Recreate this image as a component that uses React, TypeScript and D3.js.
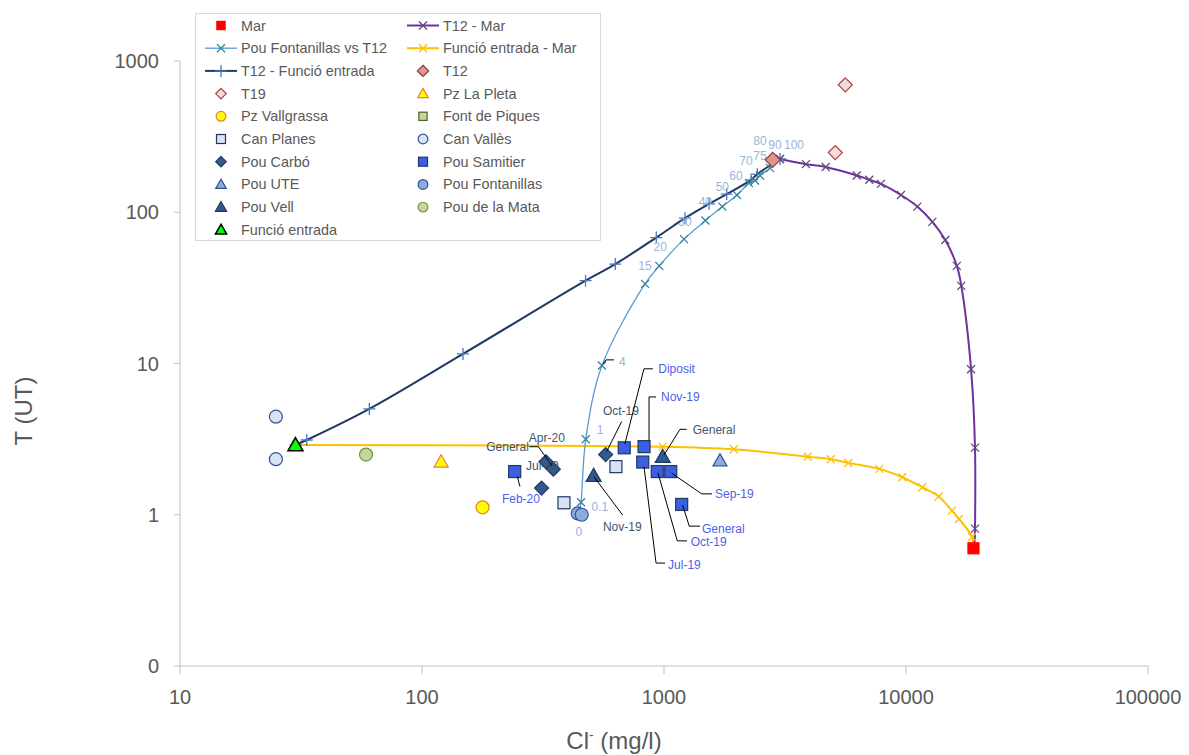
import React from 'react';
import * as d3 from 'd3';

// ---------- DATA ----------
const xTickValues = [10, 100, 1000, 10000, 100000];
const xTickLabels = ['10', '100', '1000', '10000', '100000'];
const yTickValues = [0.1, 1, 10, 100, 1000];
const yTickLabels = ['0', '1', '10', '100', '1000'];

const marX = [19000];
const marY = [0.6];

const t12MarX = [3015, 3860, 4660, 6260, 7050, 7880, 9530, 11140, 12850, 14530, 16220, 16930, 18570, 19280, 19280, 19200];
const t12MarY = [225, 208, 199, 175, 164, 154, 130, 109, 86.4, 65.6, 44.2, 32.6, 9.17, 2.78, 0.81, 0.6];

const fontT12X = [445, 454, 475, 554, 835, 956, 1210, 1482, 1742, 2003, 2245, 2377, 2493, 2742, 3015];
const fontT12Y = [1.01, 1.21, 3.16, 9.69, 33.6, 44.2, 66.4, 88.1, 109, 130, 155.8, 162, 174.8, 195.7, 224.5];
const fontT12Labels = ['0', '0.1', '1', '4', '15', '20', '30', '40', '50', '60', '70', '75', '80', '90', '100'];

const entMarX = [30, 988, 1946, 3926, 4886, 5776, 7757, 9658, 11677, 13650, 15490, 16560, 18740, 19000];
const entMarY = [2.89, 2.82, 2.71, 2.42, 2.33, 2.2, 2.01, 1.77, 1.52, 1.32, 1.065, 0.938, 0.713, 0.6];

const t12EntX = [30, 33.4, 60.6, 147.7, 474, 629, 929, 1221, 1535, 1816, 2290, 2430, 3015];
const t12EntY = [2.89, 3.12, 5.01, 11.57, 35.3, 45.4, 68.0, 91.4, 113.7, 131.8, 163.8, 178.6, 225];

const t12X = [2813];
const t12Y = [222];

const t19X = [5103, 5612];
const t19Y = [248, 696];

const laPletaX = [120];
const laPletaY = [2.24];

const vallgrassaX = [178];
const vallgrassaY = [1.12];

const fontPiquesX: number[] = [];
const fontPiquesY: number[] = [];

const canPlanesX = [633, 386];
const canPlanesY = [2.08, 1.2];

const canVallesX = [24.9, 24.9];
const canVallesY = [4.45, 2.33];

const carboX = [574, 325, 349, 312];
const carboY = [2.5, 2.24, 2.0, 1.5];
const carboLabels = ['Oct-19', 'Apr-20', 'General', 'Jul-19'];

const samitierX = [685, 827, 817, 938, 1066, 1183, 241.5];
const samitierY = [2.77, 2.82, 2.23, 1.93, 1.93, 1.17, 1.93];
const samitierLabels = ['Diposit', 'Nov-19', 'Jul-19', 'Oct-19', 'Sep-19', 'General', 'Feb-20'];

const uteX = [1703];
const uteY = [2.28];

const pouFontX = [440, 457];
const pouFontY = [1.02, 1.0];

const vellX = [512, 988];
const vellY = [1.81, 2.42];
const vellLabels = ['Nov-19', 'General'];

const mataX = [58.7];
const mataY = [2.5];

const entradaX = [30];
const entradaY = [2.89];

// ---------- LAYOUT (label placement, px offsets from the point) ----------
type LabelPos = { dx: number; dy: number; anchor: string; leader?: [number, number][] };

const fontT12LabelPos: LabelPos[] = [
  { dx: 0, dy: 22, anchor: 'middle' },
  { dx: 10.5, dy: 9, anchor: 'start' },
  { dx: 11, dy: -5, anchor: 'start' },
  { dx: 17, dy: 0, anchor: 'start', leader: [[1.3, -1.7], [4, -5.7], [12, -5.7]] },
  { dx: 0, dy: -14, anchor: 'middle' },
  { dx: 1, dy: -14.5, anchor: 'middle' },
  { dx: 1, dy: -13, anchor: 'middle' },
  { dx: 0, dy: -14.5, anchor: 'middle' },
  { dx: 0, dy: -15.5, anchor: 'middle' },
  { dx: -1, dy: -15, anchor: 'middle' },
  { dx: -3, dy: -18, anchor: 'middle' },
  { dx: 5, dy: -21, anchor: 'middle' },
  { dx: 0, dy: -31, anchor: 'middle' },
  { dx: 5, dy: -19, anchor: 'middle' },
  { dx: 14, dy: -10, anchor: 'middle' },
];

const carboLabelPos: LabelPos[] = [
  { dx: 15.3, dy: -39.7, anchor: 'middle', leader: [[1, -3], [16, -33]] },
  { dx: 1, dy: -20, anchor: 'middle' },
  { dx: -45.8, dy: -18.3, anchor: 'middle', leader: [[-24, -22.5], [-15, -22.5], [-1.3, -3.3]] },
  { dx: 0.8, dy: -18.3, anchor: 'middle' },
];

const samitierLabelPos: LabelPos[] = [
  { dx: 34, dy: -75, anchor: 'start', leader: [[0.7, -4], [19.7, -79], [28.7, -79]] },
  { dx: 17, dy: -45.7, anchor: 'start', leader: [[5, -6], [5, -49.7], [12, -49.7]] },
  { dx: 25.3, dy: 107, anchor: 'start', leader: [[1.3, 4.7], [13.3, 101], [22.3, 101]] },
  { dx: 33.4, dy: 74.3, anchor: 'start', leader: [[0.7, 1.3], [20, 69.3], [29.7, 69.3]] },
  { dx: 44.3, dy: 26.3, anchor: 'start', leader: [[1, 1.6], [31, 22.3], [41.3, 22.3]] },
  { dx: 20.3, dy: 28.7, anchor: 'start', leader: [[1, 0.7], [7.6, 21.7], [18.3, 21.7]] },
  { dx: 6.3, dy: 31.3, anchor: 'middle', leader: [[2.6, 5], [5.3, 15]] },
];

const vellLabelPos: LabelPos[] = [
  { dx: 9.3, dy: 55.3, anchor: 'start', leader: [[0.3, 1], [29, 39.3]] },
  { dx: 30, dy: -22.7, anchor: 'start', leader: [[1.3, -1.7], [17.3, -27.4], [24, -27.4]] },
];

const FONT = "'Liberation Sans', Arial, sans-serif";
const GRAY = '#595959';

type Shape = 'square' | 'diamond' | 'triangle' | 'circle' | 'x' | 'plus';

function Marker(props: { shape: Shape; cx: number; cy: number; size: number; fill: string; stroke: string; sw?: number }) {
  const { shape, cx, cy, size, fill, stroke } = props;
  const sw = props.sw ?? 1;
  const h = size / 2;
  if (shape === 'square') {
    return <rect x={cx - h} y={cy - h} width={size} height={size} fill={fill} stroke={stroke} strokeWidth={sw} />;
  }
  if (shape === 'diamond') {
    return <path d={`M${cx},${cy - h}L${cx + h},${cy}L${cx},${cy + h}L${cx - h},${cy}Z`} fill={fill} stroke={stroke} strokeWidth={sw} />;
  }
  if (shape === 'triangle') {
    return <path d={`M${cx},${cy - h * 1.0}L${cx + h},${cy + h * 0.75}L${cx - h},${cy + h * 0.75}Z`} fill={fill} stroke={stroke} strokeWidth={sw} strokeLinejoin="miter" />;
  }
  if (shape === 'circle') {
    return <circle cx={cx} cy={cy} r={h} fill={fill} stroke={stroke} strokeWidth={sw} />;
  }
  if (shape === 'x') {
    return <path d={`M${cx - h},${cy - h}L${cx + h},${cy + h}M${cx - h},${cy + h}L${cx + h},${cy - h}`} stroke={stroke} strokeWidth={sw} fill="none" />;
  }
  return <path d={`M${cx - h},${cy}L${cx + h},${cy}M${cx},${cy - h}L${cx},${cy + h}`} stroke={stroke} strokeWidth={sw} fill="none" />;
}

type LineSeries = { name: string; xs: number[]; ys: number[]; color: string; width: number; marker: Shape; mColor: string; mSize: number };
type PointSeries = { name: string; xs: number[]; ys: number[]; shape: Shape; fill: string; stroke: string; size: number; sw?: number };

export default function App() {
  const x = d3.scaleLog().domain([10, 100000]).range([180, 1148]);
  const y = d3.scaleLog().domain([0.1, 1000]).range([666, 61]);

  const lines: LineSeries[] = [
    { name: 'Funció entrada - Mar', xs: entMarX, ys: entMarY, color: '#ffc000', width: 2, marker: 'x', mColor: '#ffc000', mSize: 8 },
    { name: 'T12 - Funció entrada', xs: t12EntX, ys: t12EntY, color: '#203864', width: 2, marker: 'plus', mColor: '#4a76c0', mSize: 12 },
    { name: 'Pou Fontanillas vs T12', xs: fontT12X, ys: fontT12Y, color: '#5b9bd5', width: 1.3, marker: 'x', mColor: '#31859c', mSize: 8 },
    { name: 'T12 - Mar', xs: t12MarX, ys: t12MarY, color: '#7030a0', width: 2, marker: 'x', mColor: '#5f4b7b', mSize: 8 },
  ];

  const points: PointSeries[] = [
    { name: 'Mar', xs: marX, ys: marY, shape: 'square', fill: '#ff0000', stroke: '#ff0000', size: 11 },
    { name: 'T12', xs: t12X, ys: t12Y, shape: 'diamond', fill: '#d99694', stroke: '#953735', size: 15 },
    { name: 'T19', xs: t19X, ys: t19Y, shape: 'diamond', fill: '#f2dcdb', stroke: '#a5403c', size: 14 },
    { name: 'Pz La Pleta', xs: laPletaX, ys: laPletaY, shape: 'triangle', fill: '#ffff00', stroke: '#ed7d31', size: 14 },
    { name: 'Pz Vallgrassa', xs: vallgrassaX, ys: vallgrassaY, shape: 'circle', fill: '#ffff00', stroke: '#ed7d31', size: 13 },
    { name: 'Font de Piques', xs: fontPiquesX, ys: fontPiquesY, shape: 'square', fill: '#c3d69b', stroke: '#4f6228', size: 11 },
    { name: 'Can Planes', xs: canPlanesX, ys: canPlanesY, shape: 'square', fill: '#dae3f3', stroke: '#1f3864', size: 12 },
    { name: 'Can Vallès', xs: canVallesX, ys: canVallesY, shape: 'circle', fill: '#dae3f3', stroke: '#2f5597', size: 13 },
    { name: 'Pou Carbó', xs: carboX, ys: carboY, shape: 'diamond', fill: '#34598c', stroke: '#1f3864', size: 14 },
    { name: 'Pou Samitier', xs: samitierX, ys: samitierY, shape: 'square', fill: '#3c5fe0', stroke: '#1f3864', size: 12 },
    { name: 'Pou UTE', xs: uteX, ys: uteY, shape: 'triangle', fill: '#8faadc', stroke: '#2f5597', size: 14 },
    { name: 'Pou Fontanillas', xs: pouFontX, ys: pouFontY, shape: 'circle', fill: '#8faadc', stroke: '#2f5597', size: 13 },
    { name: 'Pou Vell', xs: vellX, ys: vellY, shape: 'triangle', fill: '#2f5a8e', stroke: '#1f3864', size: 15 },
    { name: 'Pou de la Mata', xs: mataX, ys: mataY, shape: 'circle', fill: '#c3d69b', stroke: '#77933c', size: 13 },
    { name: 'Funció entrada', xs: entradaX, ys: entradaY, shape: 'triangle', fill: '#00ff00', stroke: '#000000', size: 15, sw: 1.5 },
  ];

  const lineGen = d3
    .line<[number, number]>()
    .x((d) => x(d[0]))
    .y((d) => y(d[1]))
    .curve(d3.curveCatmullRom.alpha(0.5));

  const zip = (xs: number[], ys: number[]) => xs.map((v, i) => [v, ys[i]] as [number, number]);

  const legendOrder: string[] = [
    'Mar', 'T12 - Mar',
    'Pou Fontanillas vs T12', 'Funció entrada - Mar',
    'T12 - Funció entrada', 'T12',
    'T19', 'Pz La Pleta',
    'Pz Vallgrassa', 'Font de Piques',
    'Can Planes', 'Can Vallès',
    'Pou Carbó', 'Pou Samitier',
    'Pou UTE', 'Pou Fontanillas',
    'Pou Vell', 'Pou de la Mata',
    'Funció entrada',
  ];

  const renderLabels = (
    xs: number[], ys: number[], labels: string[], pos: LabelPos[], color: string, size: number, key: string
  ) =>
    labels.map((t, i) => {
      const px = x(xs[i]);
      const py = y(ys[i]);
      const p = pos[i];
      return (
        <g key={`${key}-${i}`}>
          {p.leader && (
            <polyline
              points={p.leader.map(([a, b]) => `${px + a},${py + b}`).join(' ')}
              fill="none"
              stroke="#000"
              strokeWidth={1}
            />
          )}
          <text x={px + p.dx} y={py + p.dy} textAnchor={p.anchor} fill={color} fontSize={size} fontFamily={FONT}>
            {t}
          </text>
        </g>
      );
    });

  return (
    <svg width={1189} height={755} style={{ position: 'absolute', left: 0, top: 0, background: '#fff' }}>
      <rect width={1189} height={755} fill="#fff" />
      {/* axes */}
      <line x1={180} y1={y(1000)} x2={180} y2={666} stroke="#bfbfbf" strokeWidth={1} />
      <line x1={180} y1={666} x2={x(100000)} y2={666} stroke="#bfbfbf" strokeWidth={1} />
      {yTickValues.map((v, i) => (
        <g key={`yt${i}`}>
          <line x1={174} x2={180} y1={y(v)} y2={y(v)} stroke="#bfbfbf" />
          <text x={159} y={y(v) + 7} textAnchor="end" fill={GRAY} fontSize={20} fontFamily={FONT}>
            {yTickLabels[i]}
          </text>
        </g>
      ))}
      {xTickValues.map((v, i) => (
        <g key={`xt${i}`}>
          <line x1={x(v)} x2={x(v)} y1={666} y2={674} stroke="#bfbfbf" />
          <text x={x(v)} y={704} textAnchor="middle" fill={GRAY} fontSize={20} fontFamily={FONT}>
            {xTickLabels[i]}
          </text>
        </g>
      ))}
      <text transform="translate(32,411) rotate(-90)" textAnchor="middle" fill={GRAY} fontSize={24} fontFamily={FONT}>
        T (UT)
      </text>
      <text x={614} y={749} textAnchor="middle" fill={GRAY} fontSize={24} fontFamily={FONT}>
        Cl<tspan dy={-9} fontSize={14}>-</tspan>
        <tspan dy={9}> (mg/l)</tspan>
      </text>

      {/* lines */}
      {lines.map((s) => (
        <path key={`l-${s.name}`} d={lineGen(zip(s.xs, s.ys)) || ''} fill="none" stroke={s.color} strokeWidth={s.width} />
      ))}
      {lines.map((s) =>
        s.xs.map((v, i) => (
          <Marker key={`lm-${s.name}-${i}`} shape={s.marker} cx={x(v)} cy={y(s.ys[i])} size={s.mSize} fill="none" stroke={s.mColor} sw={1.3} />
        ))
      )}

      {/* line labels */}
      {renderLabels(fontT12X, fontT12Y, fontT12Labels, fontT12LabelPos, '#9bb3dc', 12, 'ft')}

      {/* points */}
      {points.map((s) =>
        s.xs.map((v, i) => (
          <Marker key={`pm-${s.name}-${i}`} shape={s.shape} cx={x(v)} cy={y(s.ys[i])} size={s.size} fill={s.fill} stroke={s.stroke} sw={s.sw ?? 1.2} />
        ))
      )}

      {renderLabels(carboX, carboY, carboLabels, carboLabelPos, '#44546a', 12, 'cb')}
      {renderLabels(samitierX, samitierY, samitierLabels, samitierLabelPos, '#4f5fe8', 12, 'sm')}
      {renderLabels(vellX, vellY, vellLabels, vellLabelPos, '#44546a', 12, 'vl')}

      {/* legend */}
      <rect x={195.5} y={13.5} width={405} height={227} fill="#fff" stroke="#d9d9d9" strokeWidth={1} />
      {legendOrder.map((name, idx) => {
        const col = idx % 2;
        const row = Math.floor(idx / 2);
        const cy = 25.5 + row * 22.7;
        const mx = col === 0 ? 221 : 423;
        const tx = col === 0 ? 241 : 443;
        const ln = lines.find((l) => l.name === name);
        const pt = points.find((p) => p.name === name);
        return (
          <g key={`lg-${name}`}>
            {ln && (
              <>
                <line x1={mx - 16} x2={mx + 16} y1={cy} y2={cy} stroke={ln.color} strokeWidth={ln.width} />
                <Marker shape={ln.marker} cx={mx} cy={cy} size={ln.mSize} fill="none" stroke={ln.mColor} sw={1.3} />
              </>
            )}
            {pt && <Marker shape={pt.shape} cx={mx} cy={cy} size={pt.size * 0.75} fill={pt.fill} stroke={pt.stroke} sw={pt.sw ?? 1.2} />}
            <text x={tx} y={cy + 5} fill={GRAY} fontSize={14.4} fontFamily={FONT}>
              {name}
            </text>
          </g>
        );
      })}
    </svg>
  );
}
